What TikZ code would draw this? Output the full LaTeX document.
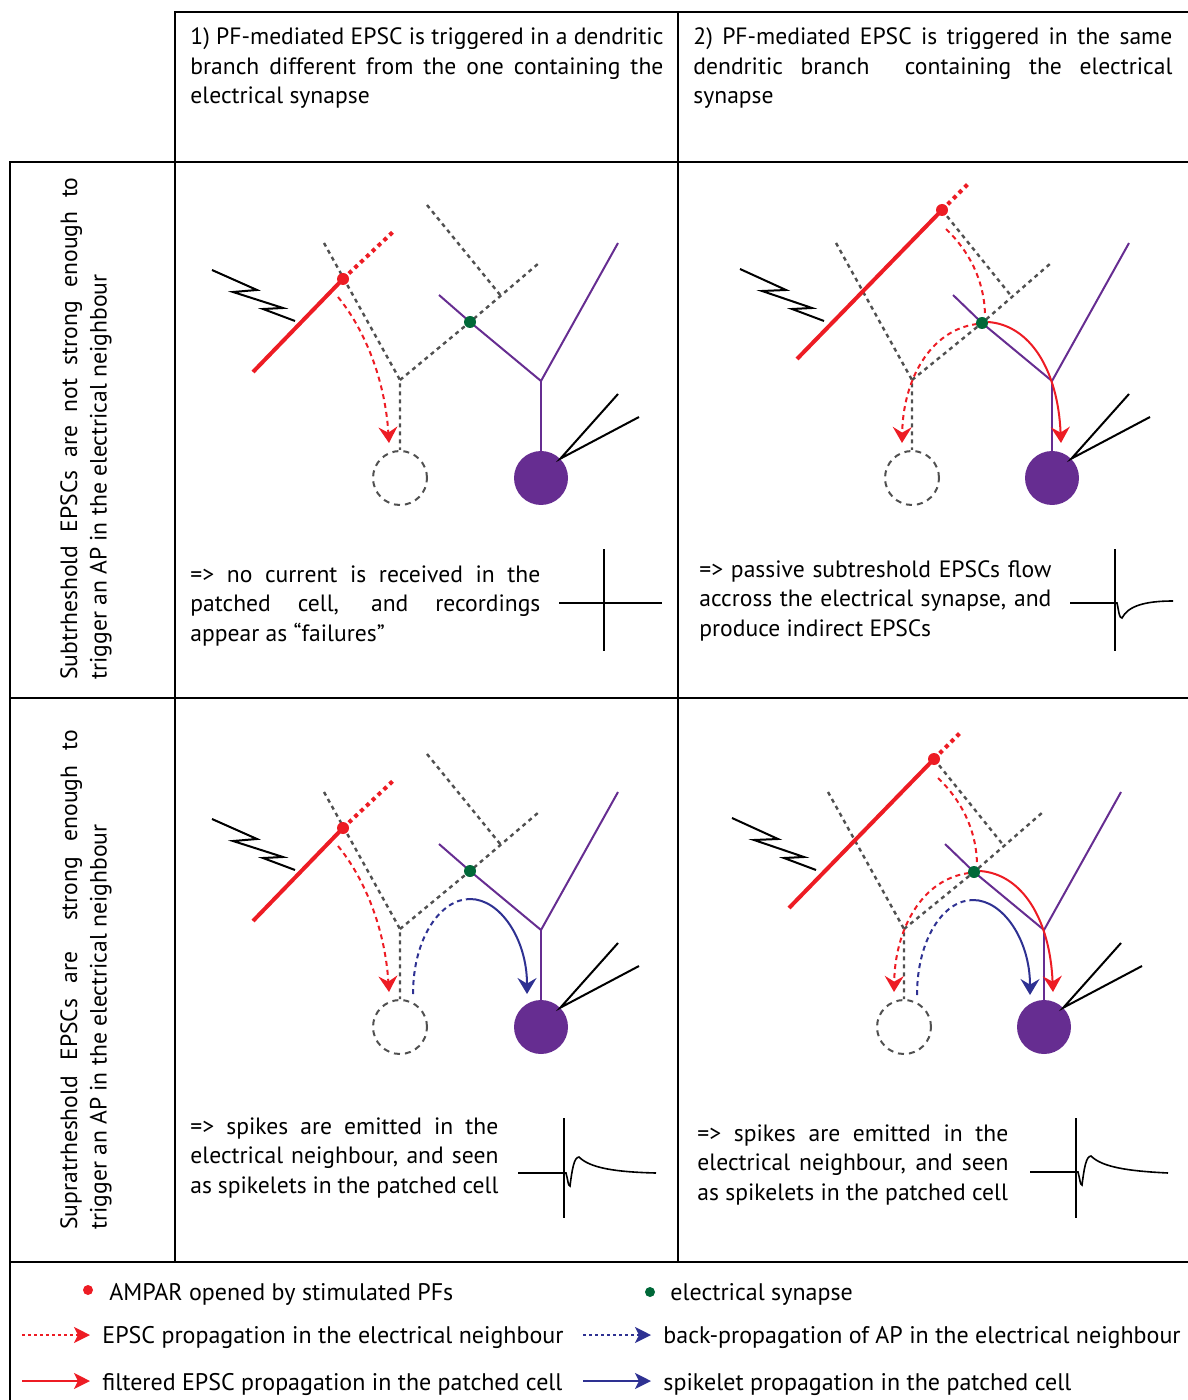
\documentclass[tikz,border=0pt]{standalone}
\usepackage{fontspec}
\setmainfont{PT Sans}
\usetikzlibrary{arrows.meta}

\definecolor{ampa}{RGB}{237,28,36}
\definecolor{cellpurple}{RGB}{102,45,145}
\definecolor{gapgreen}{RGB}{0,104,56}
\definecolor{spikeblue}{RGB}{46,49,146}
\definecolor{dendgrey}{RGB}{80,80,80}

\tikzset{
  gridline/.style={black, line width=1.1pt, line cap=rect},
  neighbour/.style={dendgrey, line width=1.2pt, dash pattern=on 2pt off 2pt},
  pfdend/.style={ampa, line width=2pt},
  pfdots/.style={ampa, line width=2pt, dash pattern=on 2pt off 2pt},
  patched/.style={cellpurple, line width=1pt},
  somacell/.style={circle, fill=cellpurple, minimum size=27pt, inner sep=0pt},
  ghostcell/.style={circle, draw=dendgrey, line width=1pt, dash pattern=on 3pt off 2.5pt, minimum size=27pt, inner sep=0pt},
  bolt/.style={black, line width=1pt, line join=miter},
  pipette/.style={black, line width=1pt},
  headed/.style={-{Stealth[length=8pt,width=9.5pt,inset=2.8pt]}},
  keyhead/.style={-{Stealth[length=8pt,width=8pt,inset=2pt]}},
  epscn/.style={ampa, line width=1pt, dash pattern=on 2.5pt off 2pt},
  epscp/.style={ampa, line width=1pt},
  apback/.style={spikeblue, line width=1pt, dash pattern=on 2.5pt off 2pt},
  spikelet/.style={spikeblue, line width=1pt},
  recording/.style={black, line width=0.8pt},
  ampadot/.style={circle, fill=ampa, minimum size=6pt, inner sep=0pt},
  gapdot/.style={circle, fill=gapgreen, minimum size=6pt, inner sep=0pt},
  txt/.style={font=\fontsize{11.8}{14.75}\selectfont, align=justify, inner sep=0pt, anchor=base west},
  keytext/.style={font=\fontsize{12}{14}\selectfont, inner sep=0pt, anchor=base west},
}

% Neighbour stimulated on another branch than the electrical synapse
\newcommand{\branchother}{%
  \coordinate (pf) at (343,279);
  \coordinate (br) at (400,380);
  \coordinate (gj) at (470,322);
  \coordinate (pb) at (541,381);
  \node[ghostcell] (nb) at (400,478) {};
  \node[somacell] (so) at (541,478) {};
  \draw[neighbour] (324,243) -- (br) -- (nb.north);
  \draw[neighbour] (br) -- (gj) -- (539,263);
  \draw[neighbour] (427,205) -- (501,296);
  \draw[patched] (439,295) -- (gj) -- (pb) -- (618,243);
  \draw[patched] (pb) -- (so);
  \draw[pipette] (618,394) -- (so.45) -- (639,417);
  \draw[pfdend] (253,372) -- (pf);
  \draw[pfdots] (pf) -- (395,230);
  \draw[bolt] (212,270) -- (257,290) -- (233,292) -- (283,308) -- (263,309) -- (295,321);
  \coordinate (ea) at (338,297);
  \coordinate (eb) at (389,443);
  \draw[epscn, headed] (ea) .. controls (365,330) and (385,380) .. (eb);
  \node[ampadot] (pfdot) at (pf) {};
  \node[gapdot] (gjdot) at (gj) {};
}

% Neighbour stimulated on the branch carrying the electrical synapse
\newcommand{\branchsame}{%
  \coordinate (pf) at (942,210);
  \coordinate (br) at (912,380);
  \coordinate (gj) at (982,323);
  \coordinate (pb) at (1052,381);
  \node[ghostcell] (nb) at (912,478) {};
  \node[somacell] (so) at (1052,478) {};
  \draw[neighbour] (836,243) -- (br) -- (nb.north);
  \draw[neighbour] (br) -- (gj) -- (1051,263);
  \draw[neighbour] (pf) -- (1012,297);
  \draw[patched] (953,295) -- (gj) -- (pb) -- (1129,243);
  \draw[patched] (pb) -- (so);
  \draw[pipette] (1129,394) -- (so.45) -- (1150,417);
  \draw[pfdend] (797,359) -- (pf);
  \draw[pfdots] (pf) -- (969,183);
  \draw[bolt] (740,269) -- (786,290) -- (762,291) -- (812,308) -- (792,309) -- (824,321);
  \coordinate (ea) at (946,229);
  \coordinate (eb) at (985,317);
  \coordinate (ec) at (977,324);
  \coordinate (ed) at (902,443);
  \coordinate (ee) at (988,322);
  \coordinate (ef) at (1061,443);
  \draw[epscn] (ea) .. controls (968,250) and (985,280) .. (eb);
  \draw[epscn, headed] (ec) .. controls (930,330) and (903,380) .. (ed);
  \draw[epscp, headed] (ee) .. controls (1030,325) and (1058,370) .. (ef);
  \node[ampadot] (pfdot) at (pf) {};
  \node[gapdot] (gjdot) at (gj) {};
}

\begin{document}
\begin{tikzpicture}[x=0.5pt, y=-0.5pt]
\useasboundingbox (0,0) rectangle (1187,1400);

% table
\draw[gridline] (175,12) -- (1187,12);
\draw[gridline] (10,162) -- (1187,162);
\draw[gridline] (10,698) -- (1187,698);
\draw[gridline] (10,1262) -- (1187,1262);
\draw[gridline] (10,162) -- (10,1400);
\draw[gridline] (175,12) -- (175,1262);
\draw[gridline] (678,12) -- (678,1262);

% column headings
\node[txt, text width=236.5pt] (head1) at (190,45) {1) PF-mediated EPSC is triggered in a dendritic\linebreak branch different from the one containing the\linebreak electrical synapse};
\node[txt, text width=239.5pt] (head2) at (693,45) {2) PF-mediated EPSC is triggered in the same\linebreak dendritic branch~~containing the electrical\linebreak synapse};

% row headings
\node[txt, rotate=90, text width=251pt] (row1) at (77,680) {Subtrheshold EPSCs are not strong enough to\linebreak trigger an AP in the electrical neighbour};
\node[txt, rotate=90, text width=250pt] (row2) at (77,1230) {Supratrheshold EPSCs are~~strong enough to\linebreak trigger an AP in the electrical neighbour};

% cells
\begin{scope}[name prefix=a-]
  \branchother
\end{scope}
\begin{scope}[name prefix=b-]
  \branchsame
\end{scope}
\begin{scope}[shift={(0,549)}, name prefix=c-]
  \branchother
  \coordinate (ba) at (413,445);
  \coordinate (bb) at (470,350);
  \coordinate (bc) at (527,445);
  \draw[apback] (ba) .. controls (413,390) and (440,350) .. (bb);
  \draw[spikelet, headed] (bb) .. controls (500,350) and (527,390) .. (bc);
\end{scope}
\begin{scope}[shift={(-8,549)}, name prefix=d-]
  \branchsame
  \coordinate (ba) at (925,446);
  \coordinate (bb) at (981,351);
  \coordinate (bc) at (1038,446);
  \draw[apback] (ba) .. controls (925,391) and (951,351) .. (bb);
  \draw[spikelet, headed] (bb) .. controls (1011,351) and (1038,391) .. (bc);
\end{scope}

% cell captions
\node[txt, text width=175pt] (capa) at (190,582) {=> no current is received in the\linebreak patched cell, and recordings\linebreak appear as “failures”};
\node[txt, text width=176pt] (capb) at (699,577) {=> passive subtreshold EPSCs flow\linebreak accross the electrical synapse, and\linebreak produce indirect EPSCs};
\node[txt, text width=154pt] (capc) at (190,1134) {=> spikes are emitted in the\linebreak electrical neighbour, and seen\linebreak as spikelets in the patched cell};
\node[txt, text width=155.5pt] (capd) at (697,1141) {=> spikes are emitted in the\linebreak electrical neighbour, and seen\linebreak as spikelets in the patched cell};

% recordings from the patched cell
\draw[recording] (559,603) -- (662,603);
\draw[recording] (604,549) -- (604,651);
\draw[recording] (1115,549) -- (1115,651);
\draw[recording] (1070,603) -- (1117,603) .. controls (1119,612) and (1119,618) .. (1122,618) .. controls (1128,606) and (1145,601) .. (1173,601);
\draw[recording] (564,1118) -- (564,1218);
\draw[recording] (518,1173) -- (566,1173) .. controls (568,1180) and (568,1186) .. (570,1186) .. controls (572,1170) and (574,1157) .. (579,1157) .. controls (590,1168) and (615,1172) .. (656,1173);
\draw[recording] (1076,1118) -- (1076,1218);
\draw[recording] (1030,1172) -- (1078,1172) .. controls (1080,1179) and (1080,1185) .. (1082,1185) .. controls (1084,1169) and (1086,1156) .. (1091,1156) .. controls (1102,1167) and (1127,1171) .. (1168,1173);

% legend
\node[ampadot, minimum size=5pt] (k1) at (88,1290) {};
\node[keytext] (k1t) at (109,1300) {AMPAR opened by stimulated PFs};
\node[gapdot, minimum size=5pt] (k2) at (650,1292) {};
\node[keytext] (k2t) at (670,1300) {electrical synapse};
\coordinate (k3a) at (22,1335);  \coordinate (k3b) at (90,1335);
\draw[ampa, line width=0.8pt, dash pattern=on 1.5pt off 1.5pt, keyhead] (k3a) -- (k3b);
\node[keytext] (k3t) at (102,1343) {EPSC propagation in the electrical neighbour};
\coordinate (k4a) at (583,1335); \coordinate (k4b) at (651,1335);
\draw[spikeblue, line width=0.8pt, dash pattern=on 1.5pt off 1.5pt, keyhead] (k4a) -- (k4b);
\node[keytext] (k4t) at (663,1343) {back-propagation of AP in the electrical neighbour};
\coordinate (k5a) at (22,1381);  \coordinate (k5b) at (90,1381);
\draw[ampa, line width=1pt, keyhead] (k5a) -- (k5b);
\node[keytext] (k5t) at (102,1390) {filtered EPSC propagation in the patched cell};
\coordinate (k6a) at (583,1381); \coordinate (k6b) at (651,1381);
\draw[spikeblue, line width=1pt, keyhead] (k6a) -- (k6b);
\node[keytext] (k6t) at (663,1390) {spikelet propagation in the patched cell};
\end{tikzpicture}
\end{document}
